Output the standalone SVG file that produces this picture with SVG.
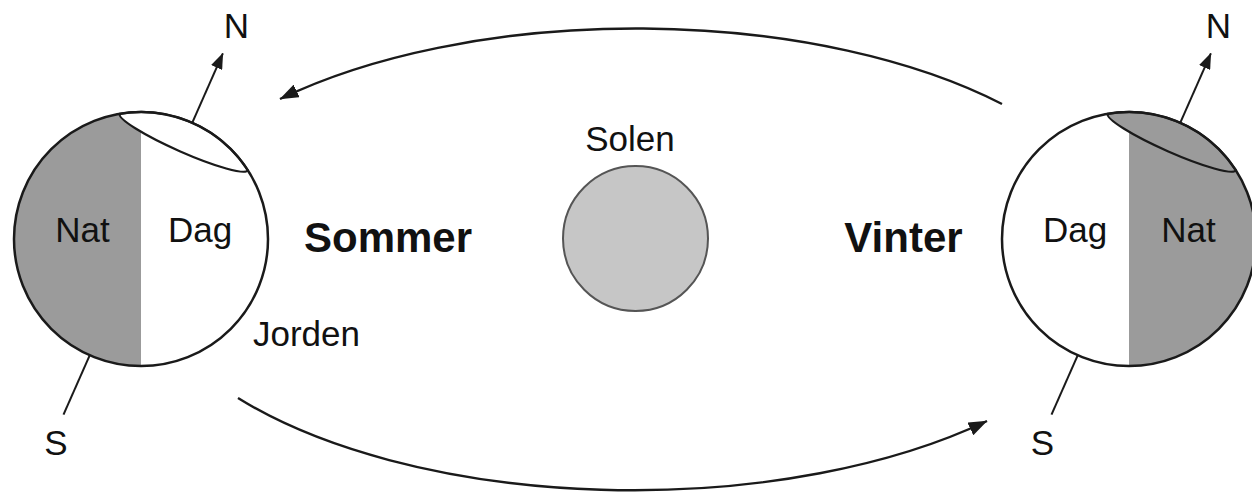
<svg xmlns="http://www.w3.org/2000/svg" width="1252" height="494" viewBox="0 0 1252 494">
  <defs>
    <style>
      .lbl { font-family: "Liberation Sans", Arial, Helvetica, sans-serif; font-size: 35px; fill: #111; text-anchor: middle; }
      .season { font-family: "Liberation Sans", Arial, Helvetica, sans-serif; font-size: 42px; font-weight: bold; fill: #111; text-anchor: middle; }
      .globe { fill: none; stroke: #1a1a1a; stroke-width: 2.5; }
      .night { fill: #9b9b9b; stroke: none; }
      .day { fill: #ffffff; stroke: none; }
      .cap-line { stroke: #1a1a1a; stroke-width: 2.2; }
      .axis { stroke: #1a1a1a; stroke-width: 2; fill: none; }
      .orbit { stroke: #1a1a1a; stroke-width: 2.4; fill: none; }
    </style>
    <marker id="axis-head" markerUnits="userSpaceOnUse" markerWidth="16" markerHeight="12" viewBox="0 0 16 12" refX="15.5" refY="6" orient="auto">
      <path d="M0,0 L16,6 L0,12 Z" fill="#1a1a1a"/>
    </marker>
    <marker id="orbit-head" markerUnits="userSpaceOnUse" markerWidth="19" markerHeight="14" viewBox="0 0 19 14" refX="18.5" refY="7" orient="auto">
      <path d="M0,0 L19,7 L0,14 Z" fill="#1a1a1a"/>
    </marker>
  </defs>

  <rect width="1252" height="494" fill="#ffffff"/>

  <!-- Earth in northern summer: north pole tilted toward the Sun -->
  <g id="earth-summer" transform="translate(141,239)">
    <circle class="day" r="127"/>
    <path class="night" d="M0,-127 A127,127 0 0 0 0,127 Z"/>
    <!-- polar cap north of the arctic circle: all daylight -->
    <path class="day cap-line" style="stroke:#1a1a1a" d="M-21.28,-125.24 A70,10 23.8 0 0 106.82,-68.74 A127,127 0 0 0 -21.28,-125.24 Z"/>
    <circle class="globe" r="127"/>
    <line class="axis" x1="51.2" y1="-116.2" x2="81.9" y2="-185.7" marker-end="url(#axis-head)"/>
    <line class="axis" x1="-51.2" y1="116.2" x2="-77.5" y2="175.7"/>
    <text class="lbl" x="-58.5" y="3">Nat</text>
    <text class="lbl" x="59" y="3">Dag</text>
    <text class="lbl" x="95.5" y="-201">N</text>
    <text class="lbl" x="-85" y="216">S</text>
  </g>

  <!-- Earth in northern winter: north pole tilted away from the Sun -->
  <g id="earth-winter" transform="translate(1129,239)">
    <circle class="day" r="127"/>
    <path class="night" d="M0,-127 A127,127 0 0 1 0,127 Z"/>
    <!-- polar cap north of the arctic circle: all night -->
    <path class="night cap-line" style="stroke:#1a1a1a" d="M-21.28,-125.24 A70,10 23.8 0 0 106.82,-68.74 A127,127 0 0 0 -21.28,-125.24 Z"/>
    <circle class="globe" r="127"/>
    <line class="axis" x1="51.2" y1="-116.2" x2="81.9" y2="-185.7" marker-end="url(#axis-head)"/>
    <line class="axis" x1="-51.2" y1="116.2" x2="-77.5" y2="175.7"/>
    <text class="lbl" x="-54" y="3">Dag</text>
    <text class="lbl" x="59.5" y="3">Nat</text>
    <text class="lbl" x="89.5" y="-201">N</text>
    <text class="lbl" x="-86.5" y="216">S</text>
  </g>

  <!-- The Sun -->
  <g id="sun">
    <circle cx="635.5" cy="238.5" r="72.5" fill="#c6c6c6" stroke="#555555" stroke-width="2"/>
    <text class="lbl" x="630" y="151">Solen</text>
  </g>

  <g id="labels">
    <text class="season" x="388" y="252">Sommer</text>
    <text class="season" x="903.5" y="252">Vinter</text>
    <text class="lbl" x="306.5" y="346">Jorden</text>
  </g>

  <!-- Orbit arcs -->
  <g id="connectors">
    <path class="orbit" d="M1002,104 A495,231 0 0 0 280,99" marker-end="url(#orbit-head)"/>
    <path class="orbit" d="M238,398 A495,231 0 0 0 987,421" marker-end="url(#orbit-head)"/>
  </g>
</svg>
